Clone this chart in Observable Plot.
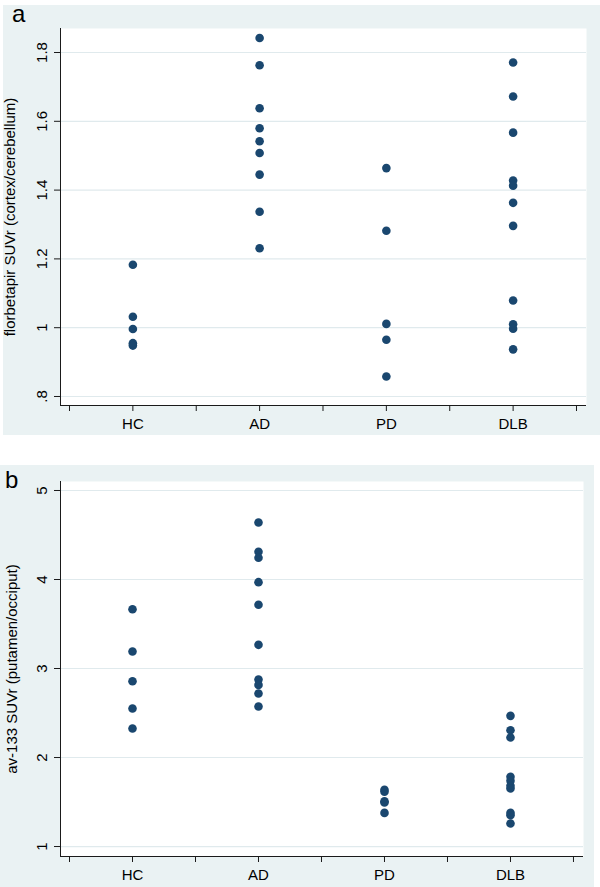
<!DOCTYPE html>
<html>
<head>
<meta charset="utf-8">
<script src="https://cdn.jsdelivr.net/npm/d3@7"></script>
<script src="https://cdn.jsdelivr.net/npm/@observablehq/plot@0.6"></script>
<style>
  html, body { margin: 0; padding: 0; background: #ffffff; }
  body { width: 600px; height: 887px; position: relative; overflow: hidden; font-family: "Liberation Sans", Arial, sans-serif; }
  .panel { position: absolute; background: #eaf2f3; }
  .plabel { position: absolute; font-size: 24px; line-height: 24px; color: #000; }
</style>
</head>
<body>
<div id="pa" class="panel" style="left:3px; top:5px; width:597px; height:430px;"></div>
<div id="pb" class="panel" style="left:0px; top:465px; width:594px; height:422px;"></div>
<div class="plabel" style="left:12px; top:2px;">a</div>
<div class="plabel" style="left:5px; top:468px;">b</div>
<script>
// ---- data ----
const categories = ["HC", "AD", "PD", "DLB"];
const categoryPositions = [1, 3, 5, 7];
const xTicks = [0, 1, 2, 3, 4, 5, 6, 7, 8];

// Panel a: florbetapir SUVr (cortex/cerebellum)
const florHC  = [1.183, 1.032, 0.996, 0.955, 0.948];
const florAD  = [1.842, 1.763, 1.638, 1.580, 1.542, 1.508, 1.445, 1.337, 1.231];
const florPD  = [1.464, 1.282, 1.011, 0.965, 0.858];
const florDLB = [1.771, 1.672, 1.567, 1.428, 1.413, 1.363, 1.296, 1.079, 1.010, 0.997, 0.937];
const florTicks = [0.8, 1.0, 1.2, 1.4, 1.6, 1.8];
const florTickLabels = [".8", "1", "1.2", "1.4", "1.6", "1.8"];
const florTitle = "florbetapir SUVr (cortex/cerebellum)";

// Panel b: av-133 SUVr (putamen/occiput)
const avHC  = [3.666, 3.191, 2.857, 2.551, 2.326];
const avAD  = [4.640, 4.311, 4.244, 3.970, 3.716, 3.266, 2.876, 2.816, 2.719, 2.573];
const avPD  = [1.638, 1.615, 1.508, 1.495, 1.378];
const avDLB = [2.468, 2.307, 2.225, 1.783, 1.738, 1.682, 1.652, 1.378, 1.352, 1.258];
const avTicks = [1, 2, 3, 4, 5];
const avTickLabels = ["1", "2", "3", "4", "5"];
const avTitle = "av-133 SUVr (putamen/occiput)";

// ---- helpers ----
const navy = "#1a476f";
const gridColor = "#e0eaed";
const axisColor = "#1a1a1a";
const font = "Liberation Sans, Arial, sans-serif";

function rowsOf(groups) {
  const rows = [];
  groups.forEach((vals, i) => vals.forEach(v => rows.push({group: categories[i], x: categoryPositions[i], v})));
  return rows;
}
function xLabel(d) {
  const i = categoryPositions.indexOf(d);
  return i >= 0 ? categories[i] : "";
}

function makePanel({width, height, margins, xDomain, yDomain, rows, yTicks, yTickLabels, title, titleDx}) {
  return Plot.plot({
    width, height,
    marginLeft: margins[0], marginRight: margins[1], marginTop: margins[2], marginBottom: margins[3],
    style: {background: "transparent", fontFamily: font, overflow: "visible"},
    x: {type: "linear", domain: xDomain},
    y: {type: "linear", domain: yDomain},
    marks: [
      Plot.frame({fill: "white", stroke: null}),
      Plot.ruleY(yTicks, {stroke: gridColor, strokeWidth: 1.2}),
      Plot.ruleY([yDomain[0]], {stroke: axisColor, strokeWidth: 1}),
      Plot.ruleX([xDomain[0]], {stroke: axisColor, strokeWidth: 1}),
      Plot.axisX({ticks: xTicks, tickFormat: xLabel, tickSize: 6, tickPadding: 7, fontSize: 15, stroke: axisColor, fill: "#000", label: null}),
      Plot.axisY({ticks: yTicks, tickFormat: () => "", tickSize: 6, stroke: axisColor, label: null}),
      Plot.text(yTicks, {y: d => d, frameAnchor: "left", dx: -18, rotate: -90, textAnchor: "middle", lineAnchor: "middle",
        text: (d, i) => yTickLabels[i], fontSize: 15, fill: "#000"}),
      Plot.text([title], {frameAnchor: "left", dx: titleDx, rotate: -90, textAnchor: "middle", lineAnchor: "middle",
        text: d => d, fontSize: 15, fill: "#000"}),
      Plot.dot(rows, {x: "x", y: "v", r: 4.3, fill: navy, stroke: null})
    ]
  });
}

document.getElementById("pa").append(makePanel({
  width: 597, height: 430,
  margins: [57, 14, 23, 30],
  xDomain: [-0.142, 8.158],
  yDomain: [0.7738, 1.8698],
  rows: rowsOf([florHC, florAD, florPD, florDLB]),
  yTicks: florTicks, yTickLabels: florTickLabels,
  title: florTitle, titleDx: -50
}));

document.getElementById("pb").append(makePanel({
  width: 594, height: 422,
  margins: [60, 11, 16, 31],
  xDomain: [-0.143, 8.159],
  yDomain: [0.888, 5.101],
  rows: rowsOf([avHC, avAD, avPD, avDLB]),
  yTicks: avTicks, yTickLabels: avTickLabels,
  title: avTitle, titleDx: -48
}));
</script>
</body>
</html>
